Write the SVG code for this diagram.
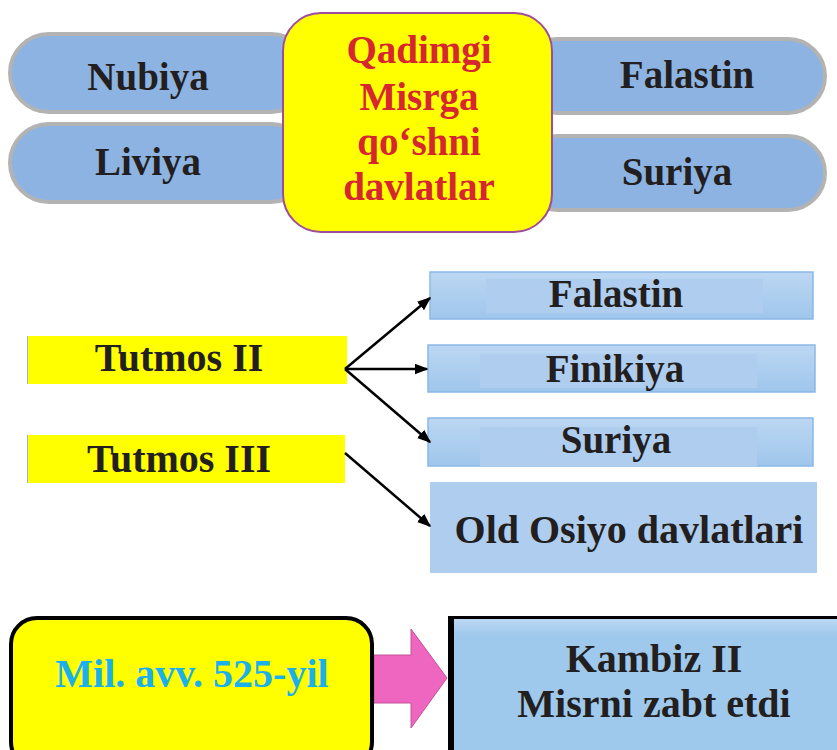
<svg xmlns="http://www.w3.org/2000/svg" width="837" height="750" viewBox="0 0 837 750">
<defs>
<style>
.t{font-family:"Liberation Serif","Times New Roman",serif;font-weight:bold;text-anchor:middle;}
.dark{fill:#231f20;}
.pill{fill:#8db3e2;stroke:#b3b3b3;stroke-width:4;}
.red{fill:#d62630;}
.box{fill:url(#bg);stroke:#8ab8e6;stroke-width:1.5;}
.inner{fill:#aecdef;}
.conn{stroke:#000;stroke-width:2.5;fill:none;marker-end:url(#ah);}
</style>
<linearGradient id="bg" x1="0" y1="0" x2="0" y2="1">
<stop offset="0" stop-color="#bcd7f2"/>
<stop offset="1" stop-color="#9fc6ec"/>
</linearGradient>
<linearGradient id="bg2" x1="0" y1="0" x2="0" y2="1">
<stop offset="0" stop-color="#bcd8f3"/>
<stop offset="0.12" stop-color="#9ec8ec"/>
<stop offset="1" stop-color="#9ec8ec"/>
</linearGradient>
<marker id="ah" viewBox="0 0 10 10" refX="9" refY="5" markerWidth="5.5" markerHeight="5.5" orient="auto" markerUnits="strokeWidth">
<path d="M0,1 L10,5 L0,9 z" fill="#000"/>
</marker>
</defs>
<rect width="837" height="750" fill="#fff"/>

<g id="nubiya">
<rect class="pill" x="10" y="34" width="300" height="78" rx="39"/>
<text class="t dark" x="148" y="90" font-size="39">Nubiya</text>
</g>
<g id="liviya">
<rect class="pill" x="10" y="124" width="300" height="78" rx="39"/>
<text class="t dark" x="148" y="175" font-size="39">Liviya</text>
</g>
<g id="falastin-top">
<rect class="pill" x="520" y="39" width="305" height="74" rx="37"/>
<text class="t dark" x="687" y="88" font-size="39">Falastin</text>
</g>
<g id="suriya-top">
<rect class="pill" x="520" y="136" width="305" height="74" rx="37"/>
<text class="t dark" x="677" y="185" font-size="39">Suriya</text>
</g>
<g id="center">
<rect x="283" y="13" width="269" height="219" rx="38" fill="#ffff00" stroke="#a04c9c" stroke-width="2"/>
<text class="t red" x="419" y="63" font-size="39">Qadimgi</text>
<text class="t red" x="419" y="110" font-size="39">Misrga</text>
<text class="t red" x="419" y="155" font-size="39">qo‘shni</text>
<text class="t red" x="419" y="200" font-size="39">davlatlar</text>
</g>

<g id="tutmos2">
<rect x="27" y="336" width="320" height="48" fill="#ffff00"/>
<line x1="27.5" y1="336" x2="27.5" y2="384" stroke="#8ab8e6" stroke-width="1"/>
<text class="t dark" x="179" y="371" font-size="40">Tutmos II</text>
</g>
<g id="tutmos3">
<rect x="27" y="435" width="318" height="48" fill="#ffff00"/>
<line x1="27.5" y1="435" x2="27.5" y2="483" stroke="#8ab8e6" stroke-width="1"/>
<text class="t dark" x="179" y="472" font-size="40">Tutmos III</text>
</g>

<g id="falastin">
<rect class="box" x="430" y="272" width="383" height="47"/>
<rect class="inner" x="486" y="279" width="277" height="34"/>
<text class="t dark" x="616" y="307" font-size="39">Falastin</text>
</g>
<g id="finikiya">
<rect class="box" x="428" y="345" width="387" height="47"/>
<rect class="inner" x="480" y="354" width="277" height="34"/>
<text class="t dark" x="615" y="382" font-size="39">Finikiya</text>
</g>
<g id="suriya">
<rect class="box" x="428" y="418" width="385" height="48"/>
<rect class="inner" x="480" y="427" width="277" height="39"/>
<text class="t dark" x="616" y="453" font-size="39">Suriya</text>
</g>
<g id="oldosiyo">
<rect x="430" y="482" width="387" height="91" fill="#aecdef"/>
<text class="t dark" x="629" y="543" font-size="40">Old Osiyo davlatlari</text>
</g>

<g id="connectors">
<line class="conn" x1="345" y1="369" x2="430" y2="298"/>
<line class="conn" x1="345" y1="369" x2="427" y2="369"/>
<line class="conn" x1="345" y1="369" x2="430" y2="442"/>
<line class="conn" x1="345" y1="453" x2="430" y2="526"/>
<path d="M374,655 L411,655 L411,629 L447,678 L411,728 L411,703 L374,703 z" fill="#ee66bf" stroke="#c4509a" stroke-width="1"/>
</g>

<g id="year">
<rect x="11" y="618" width="361" height="150" rx="26" fill="#ffff00" stroke="#000" stroke-width="4"/>
<text class="t" x="192" y="687" font-size="40" fill="#1ab0ec">Mil. avv. 525-yil</text>
</g>
<g id="kambiz">
<rect x="448" y="616" width="400" height="150" fill="#000"/>
<rect x="454" y="619" width="390" height="140" fill="url(#bg2)"/>
<text class="t dark" x="654" y="672" font-size="40">Kambiz II</text>
<text class="t dark" x="654" y="717" font-size="40">Misrni zabt etdi</text>
</g>
</svg>
